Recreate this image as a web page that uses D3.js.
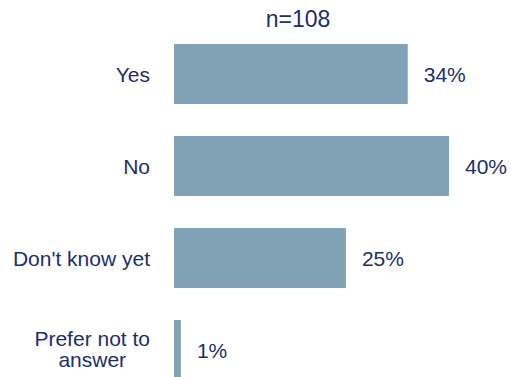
<!DOCTYPE html>
<html>
<head>
<meta charset="utf-8">
<script src="https://cdn.jsdelivr.net/npm/d3@7"></script>
<style>
  body { margin: 0; background: #fff; }
  text { font-family: "Liberation Sans", Arial, sans-serif; fill: #1b2f6b; }
</style>
</head>
<body>
<div id="chart"></div>
<script>
// chart data
var categories = ["Yes", "No", "Don't know yet", "Prefer not to answer"];
var labelLines = [["Yes"], ["No"], ["Don't know yet"], ["Prefer not to", "answer"]];
var values = [34, 40, 25, 1];
var title = "n=108";

var svgWidth = 511;
var svgHeight = 377;

var margin = { top: 44, left: 174 };
var barH = 60;
var step = 92;

var svg = d3.select("#chart")
  .append("svg")
  .attr("width", svgWidth)
  .attr("height", svgHeight);

var chartGroup = svg.append("g")
  .attr("transform", `translate(${margin.left}, ${margin.top})`);

// scales: 6.875 px per percent, 92 px per row
var xScale = d3.scaleLinear()
  .domain([0, 40])
  .range([0, 275]);

var yScale = d3.scaleBand()
  .domain(categories)
  .range([0, step * categories.length - (step - barH)])
  .paddingInner((step - barH) / step)
  .paddingOuter(0);

// bars
chartGroup.selectAll("rect")
  .data(values)
  .enter()
  .append("rect")
  .attr("x", 0)
  .attr("y", (d, i) => yScale(categories[i]))
  .attr("width", d => xScale(d))
  .attr("height", yScale.bandwidth())
  .attr("fill", "#81a1b5");

// value labels
chartGroup.selectAll(".valText")
  .data(values)
  .enter()
  .append("text")
  .attr("class", "valText")
  .attr("x", d => xScale(d) + 16)
  .attr("y", (d, i) => yScale(categories[i]) + barH / 2)
  .attr("dy", "0.38em")
  .attr("font-size", "21px")
  .text(d => d + "%");

// category labels (multi-line ones centred as a block, block right-aligned)
labelLines.forEach(function(lines, i) {
  var cy = yScale(categories[i]) + barH / 2;
  var lineH = 21;
  var t = chartGroup.append("text")
    .attr("font-size", "21px")
    .attr("text-anchor", "end");
  lines.forEach(function(line, j) {
    t.append("tspan")
      .attr("x", -24)
      .attr("y", cy + (j - (lines.length - 1) / 2) * lineH - (lines.length > 1 ? 1 : 0))
      .attr("dy", "0.38em")
      .text(line);
  });
  if (lines.length > 1) {
    var maxW = d3.max(t.selectAll("tspan").nodes(), n => n.getComputedTextLength());
    t.attr("text-anchor", "middle")
      .selectAll("tspan")
      .attr("x", -24 - maxW / 2);
  }
});

// title
svg.append("text")
  .attr("x", 298)
  .attr("y", 27)
  .attr("text-anchor", "middle")
  .attr("font-size", "23px")
  .text(title);
</script>
</body>
</html>
